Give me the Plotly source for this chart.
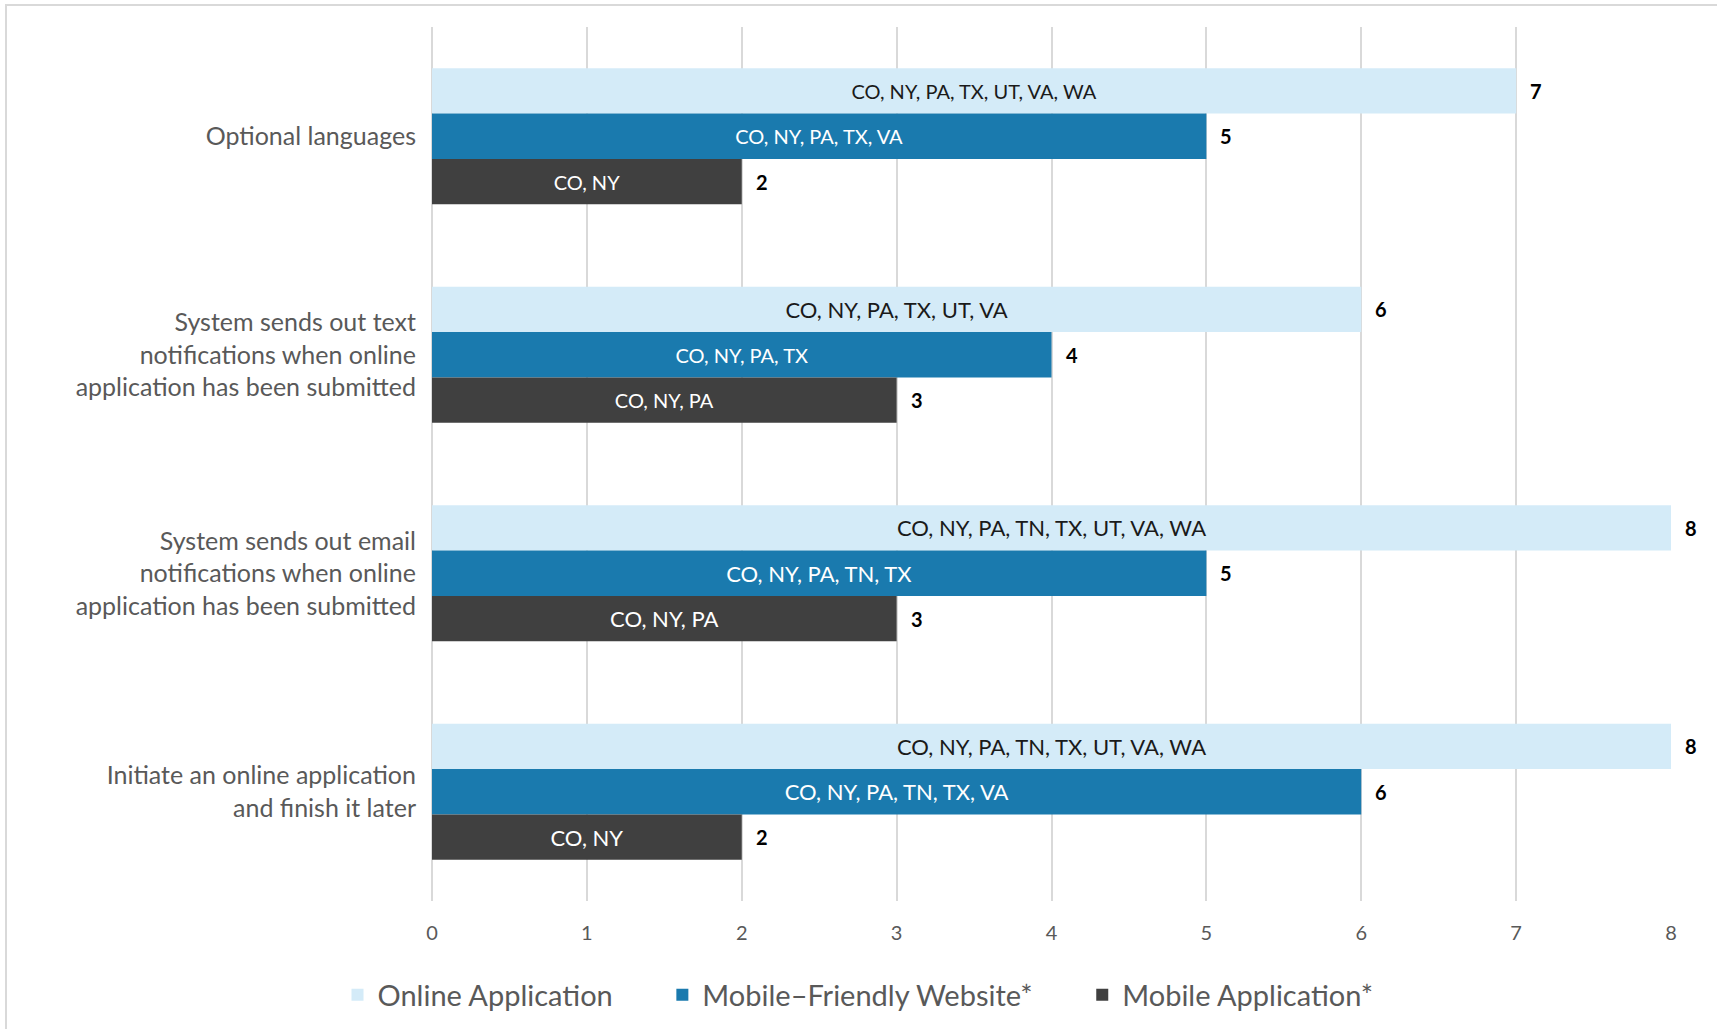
import plotly.graph_objects as go

# Features and the states offering them on each channel
features = [
    "Optional languages",
    "System sends out text<br>notifications when online<br>application has been submitted",
    "System sends out email<br>notifications when online<br>application has been submitted",
    "Initiate an online application<br>and finish it later",
]

series_names = ["Online Application", "Mobile\u2013Friendly Website*", "Mobile Application*"]

online_counts = [7, 6, 8, 8]
website_counts = [5, 4, 5, 6]
app_counts = [2, 3, 3, 2]

online_states = [
    "CO, NY, PA, TX, UT, VA, WA",
    "CO, NY, PA, TX, UT, VA",
    "CO, NY, PA, TN, TX, UT, VA, WA",
    "CO, NY, PA, TN, TX, UT, VA, WA",
]
website_states = [
    "CO, NY, PA, TX, VA",
    "CO, NY, PA, TX",
    "CO, NY, PA, TN, TX",
    "CO, NY, PA, TN, TX, VA",
]
app_states = [
    "CO, NY",
    "CO, NY, PA",
    "CO, NY, PA",
    "CO, NY",
]

x_ticks = [0, 1, 2, 3, 4, 5, 6, 7, 8]

colors = ["#D4EBF8", "#1A7AAE", "#404040"]
text_colors = ["#1a1a1a", "#ffffff", "#ffffff"]
# in-bar label sizes per category (the first rows use a tighter setting)
label_sizes = [
    [20, 22, 22, 22],
    [20, 20, 22, 22],
    [20, 20, 22, 22],
]

W, H = 1717, 1029
M_L, M_R, M_T, M_B = 432, 46, 27, 128
BARGAP = 0.378
FONT = "Lato, 'Open Sans', sans-serif"
LEGEND_PAD = "\u00a0" * 6

plot_h = H - M_T - M_B
plot_w = W - M_L - M_R
bar_px = plot_h / len(features) * (1 - BARGAP) / 3

counts = [online_counts, website_counts, app_counts]
states = [online_states, website_states, app_states]

fig = go.Figure()
for i, (name, vals, labels) in enumerate(zip(series_names, counts, states)):
    fig.add_trace(go.Bar(
        name=name + (LEGEND_PAD if i < len(series_names) - 1 else ""),
        y=features,
        x=vals,
        orientation="h",
        marker=dict(color=colors[i], line=dict(width=0)),
        text=labels,
        textposition="inside",
        insidetextanchor="middle",
        textangle=0,
        constraintext="none",
        insidetextfont=dict(family=FONT, size=label_sizes[i], color=text_colors[i]),
        hoverinfo="skip",
    ))

# Value labels at the end of each bar
annotations = []
for k, vals in enumerate(counts):
    shift = (1 - k) * bar_px
    for feat, v in zip(features, vals):
        annotations.append(dict(
            x=v, y=feat, xref="x", yref="y",
            text=f"<b>{v}</b>", showarrow=False,
            xanchor="left", yanchor="middle",
            xshift=12, yshift=shift,
            font=dict(family=FONT, size=20, color="#000000"),
        ))

# Frame lines along the top and left edges of the chart area
def px_to_paper_x(px):
    return (px - M_L) / plot_w

def px_to_paper_y(py):
    return (H - M_B - py) / plot_h

frame = [
    dict(type="line", xref="paper", yref="paper",
         x0=px_to_paper_x(5), x1=px_to_paper_x(W), y0=px_to_paper_y(5), y1=px_to_paper_y(5),
         line=dict(color="#d9d9d9", width=2)),
    dict(type="line", xref="paper", yref="paper",
         x0=px_to_paper_x(6), x1=px_to_paper_x(6), y0=px_to_paper_y(5), y1=px_to_paper_y(H),
         line=dict(color="#d9d9d9", width=2)),
]

fig.update_layout(
    width=W, height=H,
    margin=dict(l=M_L, r=M_R, t=M_T, b=M_B, autoexpand=False),
    barmode="group",
    bargap=BARGAP,
    bargroupgap=0,
    plot_bgcolor="#ffffff",
    paper_bgcolor="#ffffff",
    font=dict(family=FONT, color="#595959"),
    xaxis=dict(
        range=[0, 8],
        tickvals=x_ticks,
        showgrid=True, gridcolor="#d9d9d9", gridwidth=1.5,
        zeroline=True, zerolinecolor="#d9d9d9", zerolinewidth=1.5,
        showline=False,
        ticks="",
        ticklabelstandoff=18,
        tickfont=dict(family=FONT, size=20, color="#595959"),
        fixedrange=True,
    ),
    yaxis=dict(
        autorange="reversed",
        showgrid=False, zeroline=False, showline=False,
        ticks="",
        ticklabelstandoff=15,
        tickfont=dict(family=FONT, size=25, color="#595959"),
        fixedrange=True,
    ),
    legend=dict(
        orientation="h",
        x=px_to_paper_x(858), xanchor="center",
        y=px_to_paper_y(995), yanchor="middle",
        font=dict(family=FONT, size=29, color="#595959"),
        itemclick=False, itemdoubleclick=False,
        traceorder="normal",
    ),
    annotations=annotations,
    shapes=frame,
    showlegend=True,
)

fig.write_html("out.html")
